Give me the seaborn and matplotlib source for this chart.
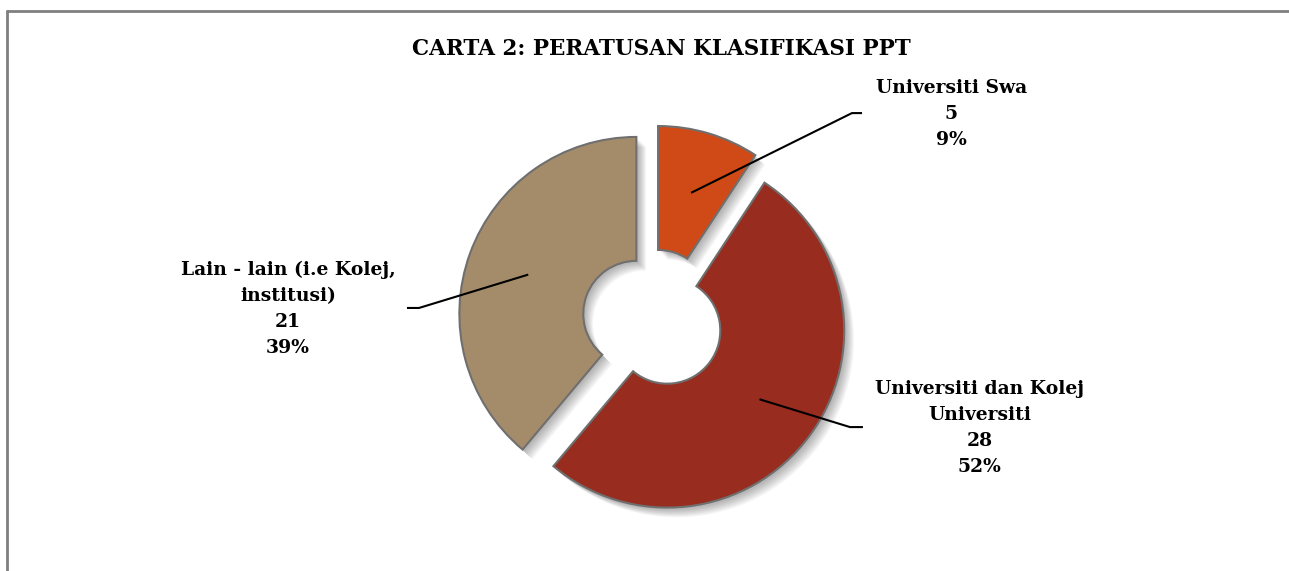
import numpy as np
import matplotlib.pyplot as plt
import seaborn as sns
from matplotlib.lines import Line2D

# chart data
categories = ["Universiti Swa", "Universiti dan Kolej\nUniversiti", "Lain - lain (i.e Kolej,\ninstitusi)"]
counts = [5, 28, 21]
colors = ["#D04A17", "#982C1F", "#A48C6B"]
title = "CARTA 2: PERATUSAN KLASIFIKASI PPT"

# label layout (data units, pie radius = 1)
elbows = [(1.124, 1.169), (1.113, -0.605), (-1.322, 0.068)]
line_ends = [(1.181, 1.169), (1.186, -0.605), (-1.390, 0.068)]
text_pos = [(1.684, 1.164), (1.847, -0.61), (-2.062, 0.062)]

sns.set_theme(style="white")
plt.rcParams["font.family"] = ["DejaVu Serif"]

fig = plt.figure(figsize=(12.89, 5.71), dpi=100)
ax = fig.add_axes([0, 0, 1, 1])

explode = [0.1] * len(counts)

# soft drop shadow
for off in np.linspace(0.012, 0.055, 8):
    ax.pie(counts, explode=explode, startangle=90, counterclock=False,
           center=(off, -off), colors=["#000000"] * len(counts),
           wedgeprops=dict(width=0.7, linewidth=0, alpha=0.04))

wedges, _ = ax.pie(counts, explode=explode, startangle=90, counterclock=False,
                   colors=colors,
                   wedgeprops=dict(width=0.7, edgecolor="#6f6f6f", linewidth=1.5))

total = sum(counts)
for w, cat, n, elb, end, tp in zip(wedges, categories, counts, elbows, line_ends, text_pos):
    mid = np.deg2rad((w.theta1 + w.theta2) / 2)
    cx, cy = w.center
    ax_x = cx + 0.65 * np.cos(mid)
    ax_y = cy + 0.65 * np.sin(mid)
    ax.plot([ax_x, elb[0], end[0]], [ax_y, elb[1], end[1]], color="black", lw=1.5,
            solid_capstyle="butt")
    pct = round(100 * n / total)
    ax.text(tp[0], tp[1], f"{cat}\n{n}\n{pct}%", ha="center", va="center",
            multialignment="center", fontsize=13.5, fontweight="bold",
            linespacing=1.57, color="black")

ax.set_aspect("auto")
ax.set_xlim(-653 / 177, 636 / 177)
ax.set_ylim(-251 / 177, 320 / 177)
ax.axis("off")

fig.text(0.513, 0.914, title, ha="center", va="center", fontsize=15.5,
         fontweight="bold", color="black")

# outer chart border
fig.add_artist(Line2D([0.0054, 0.0054], [0, 0.9815], transform=fig.transFigure, color="#7f7f7f", lw=2))
fig.add_artist(Line2D([0.0054, 1], [0.9815, 0.9815], transform=fig.transFigure, color="#7f7f7f", lw=2))

fig.savefig("out.png", dpi=100, facecolor="white")
